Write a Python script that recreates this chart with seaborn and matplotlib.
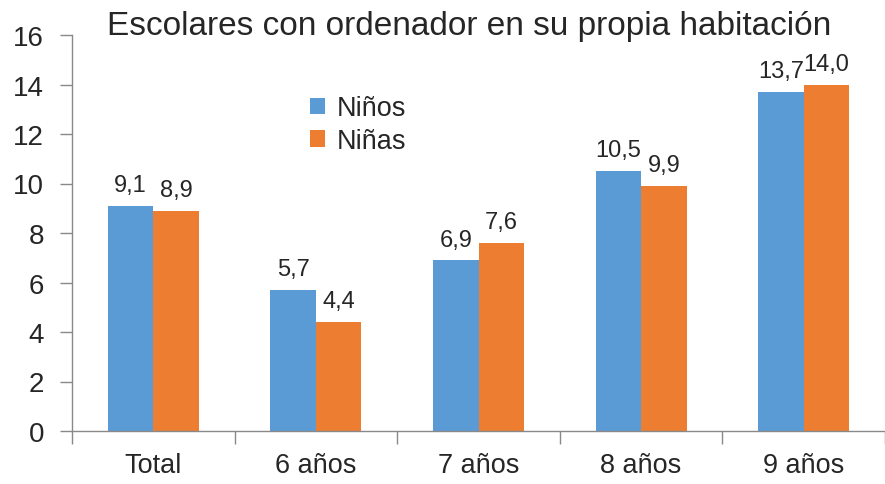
import pandas as pd
import matplotlib
matplotlib.use("Agg")
import matplotlib.pyplot as plt
import seaborn as sns

# data
categories = ["Total", "6 años", "7 años", "8 años", "9 años"]
ninos = [9.1, 5.7, 6.9, 10.5, 13.7]
ninas = [8.9, 4.4, 7.6, 9.9, 14.0]
series_names = ["Niños", "Niñas"]
colors = ["#5B9BD5", "#ED7D31"]

df = pd.DataFrame({
    "grupo": categories * 2,
    "valor": ninos + ninas,
    "sexo": [series_names[0]] * len(categories) + [series_names[1]] * len(categories),
})

sns.set_style("white")
plt.rcParams["font.family"] = ["Liberation Sans", "DejaVu Sans"]

fig = plt.figure(figsize=(8.85, 4.85), dpi=100)
ax = fig.add_axes([72 / 885, 1 - 432 / 485, 813 / 885, 396 / 485])

sns.barplot(data=df, x="grupo", y="valor", hue="sexo", palette=colors,
            width=0.56, gap=0, saturation=1, ax=ax, linewidth=0)

# data labels with comma decimals
for cont in ax.containers:
    labels = [f"{b.get_height():.1f}".replace(".", ",") for b in cont]
    ax.bar_label(cont, labels=labels, padding=7, fontsize=17)

ax.set_ylim(0, 16)
ax.set_yticks(range(0, 17, 2))
ax.set_xlim(-0.5, len(categories) - 0.5)
ax.set_xlabel("")
ax.set_ylabel("")

# x ticks at category boundaries, labels centred
ax.set_xticks([i - 0.5 for i in range(len(categories) + 1)])
ax.set_xticklabels([])
ax.set_xticks(range(len(categories)), minor=True)
ax.set_xticklabels(categories, minor=True, fontsize=19.5)
ax.tick_params(axis="x", which="minor", length=0, pad=15)
ax.tick_params(axis="x", which="major", length=9, width=1, color="#898989", direction="out", bottom=True)
ax.tick_params(axis="y", length=9, width=1, color="#898989", direction="out", left=True,
               labelsize=20, pad=11)

for side in ["top", "right"]:
    ax.spines[side].set_visible(False)
for side in ["left", "bottom"]:
    ax.spines[side].set_color("#898989")
    ax.spines[side].set_linewidth(1)

fig.text(0.53, 1 - 35 / 485, "Escolares con ordenador en su propia habitación",
         fontsize=24, ha="center", va="baseline")

handles, labels = ax.get_legend_handles_labels()
ax.legend(handles, labels, loc="upper left", bbox_to_anchor=(0.279, 0.875), frameon=False,
          fontsize=19.5, handlelength=0.55, handleheight=0.55, handletextpad=0.45,
          labelspacing=0.25, borderaxespad=0)

fig.savefig("out.png", dpi=100)
